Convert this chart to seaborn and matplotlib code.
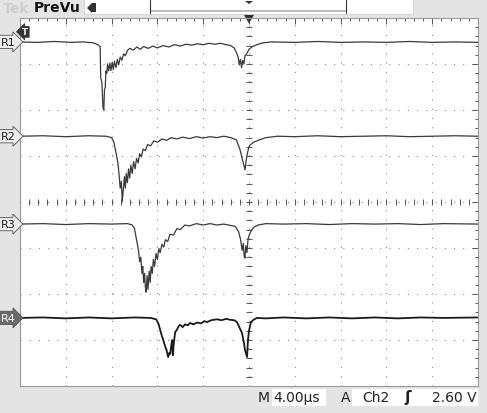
import numpy as np
import pandas as pd
import matplotlib.pyplot as plt
import seaborn as sns
from matplotlib import transforms
from matplotlib.patches import Rectangle, Polygon

# time in microseconds (4 us/div, trigger at 0), level in divisions
r1_t = [-20.0, -18.5, -17.0, -15.5, -14.5, -13.6, -13.2, -13.0, -12.95, -12.85, -12.75, -12.68,
        -12.62, -12.55, -12.50, -12.42, -12.35, -12.25, -12.15, -12.05, -11.95, -11.85, -11.75,
        -11.62, -11.50, -11.38, -11.25, -11.10, -10.95, -10.80, -10.60, -10.40, -10.1, -9.8, -9.5,
        -9.2, -8.8, -8.4, -8.0, -7.5, -7.0, -6.5, -6.0, -5.5, -5.0, -4.5, -4.0, -3.5, -3.0, -2.5,
        -2.0, -1.6, -1.3, -1.1, -0.95, -0.85, -0.75, -0.65, -0.55, -0.45, -0.35, -0.2, 0.0, 0.3,
        0.7, 1.2, 2.0, 4.0, 6.0, 8.0, 10.0, 12.0, 14.0, 16.0, 18.0, 20.0]
r1_v = [3.48, 3.47, 3.49, 3.47, 3.48, 3.46, 3.42, 3.38, 2.70, 2.60, 2.05, 2.00,
        2.45, 2.50, 2.85, 2.80, 3.00, 2.85, 3.02, 2.86, 3.04, 2.88, 3.06,
        2.92, 3.10, 2.98, 3.15, 3.08, 3.22, 3.18, 3.30, 3.34, 3.30, 3.37, 3.32,
        3.38, 3.34, 3.39, 3.35, 3.40, 3.37, 3.42, 3.39, 3.43, 3.41, 3.44, 3.42, 3.45, 3.43, 3.45,
        3.42, 3.40, 3.35, 3.25, 3.15, 2.98, 3.10, 2.92, 3.08, 3.00, 3.18, 3.22, 3.32, 3.38,
        3.42, 3.46, 3.48, 3.47, 3.49, 3.47, 3.48, 3.47, 3.49, 3.47, 3.48, 3.47]

r2_t = [-20.0, -18.0, -16.0, -14.0, -12.5, -12.0, -11.8, -11.6, -11.45, -11.35, -11.25, -11.15,
        -11.07, -11.00, -10.95, -10.88, -10.80, -10.72, -10.62, -10.52, -10.42, -10.32, -10.20,
        -10.08, -9.95, -9.82, -9.68, -9.55, -9.40, -9.25, -9.05, -8.85, -8.6, -8.3, -8.0, -7.6,
        -7.2, -6.8, -6.3, -5.8, -5.2, -4.6, -4.0, -3.4, -2.8, -2.2, -1.6, -1.1, -0.8, -0.6, -0.45,
        -0.35, -0.25, -0.15, 0.0, 0.1, 0.4, 0.9, 1.5, 2.5, 4.0, 6.0, 8.0, 10.0, 12.0, 14.0, 16.0,
        18.0, 20.0]
r2_v = [1.43, 1.44, 1.42, 1.44, 1.43, 1.40, 1.30, 1.05, 0.85, 0.60, 0.30, 0.45,
        0.02, 0.20, 0.35, 0.55, 0.30, 0.62, 0.42, 0.72, 0.52, 0.80, 0.62,
        0.88, 0.72, 0.95, 0.85, 1.05, 0.98, 1.15, 1.12, 1.25, 1.22, 1.33, 1.30, 1.37,
        1.34, 1.40, 1.37, 1.41, 1.38, 1.42, 1.39, 1.42, 1.40, 1.43, 1.40, 1.35, 1.15, 0.95, 0.80,
        0.70, 0.90, 1.05, 1.20, 1.24, 1.30, 1.35, 1.40, 1.43, 1.42, 1.44, 1.42, 1.43, 1.44, 1.42, 1.43,
        1.44, 1.43]

r3_t = [-20.0, -18.0, -16.0, -14.0, -12.0, -10.6, -10.2, -10.0, -9.8, -9.65, -9.55, -9.45, -9.35,
        -9.28, -9.20, -9.12, -9.05, -8.98, -8.90, -8.82, -8.72, -8.63, -8.55, -8.45, -8.35, -8.25,
        -8.12, -8.00, -7.88, -7.76, -7.60, -7.45, -7.30, -7.10, -6.90, -6.60, -6.30, -6.00, -5.6,
        -5.2, -4.6, -4.0, -3.4, -2.8, -2.2, -1.6, -1.2, -0.9, -0.75, -0.6, -0.5, -0.42, -0.35,
        -0.28, -0.18, -0.08, 0.05, 0.2, 0.4, 0.8, 1.5, 3.0, 5.0, 7.0, 9.0, 11.0, 13.0, 15.0, 17.0,
        20.0]
r3_v = [-0.48, -0.47, -0.49, -0.47, -0.48, -0.47, -0.50, -0.58, -0.85, -1.05, -1.30, -1.20, -1.55,
        -1.40, -1.75, -1.55, -1.85, -1.96, -1.60, -1.90, -1.50, -1.75, -1.40, -1.55, -1.25, -1.40,
        -1.12, -1.25, -1.02, -1.10, -0.92, -0.98, -0.82, -0.86, -0.70, -0.72, -0.58, -0.60, -0.50,
        -0.52, -0.47, -0.50, -0.47, -0.50, -0.48, -0.51, -0.53, -0.65, -0.80, -1.05, -0.90, -1.18, -1.22,
        -0.95, -1.10, -0.80, -0.70, -0.62, -0.55, -0.50, -0.47, -0.48, -0.47, -0.49, -0.47, -0.48, -0.47, -0.49, -0.47,
        -0.48]

r4_t = [-20.0, -18.0, -16.0, -14.0, -12.0, -10.0, -8.6, -8.1, -7.9, -7.76, -7.6, -7.49, -7.35,
        -7.2, -7.06, -6.95, -6.88, -6.78, -6.71, -6.65, -6.58, -6.45, -6.3, -6.15, -6.01, -5.8,
        -5.58, -5.35, -5.14, -4.85, -4.53, -4.2, -3.9, -3.66, -3.3, -2.79, -2.4, -2.0, -1.66, -1.3,
        -1.05, -0.85, -0.61, -0.45, -0.35, -0.17, -0.09, 0.0, 0.17, 0.4, 0.70, 1.5, 3.0, 5.0, 7.0,
        9.0, 11.0, 13.0, 15.0, 17.0, 20.0]
r4_v = [-2.52, -2.51, -2.53, -2.51, -2.53, -2.51, -2.52, -2.55, -2.65, -2.78, -2.92, -3.00, -3.12,
        -3.22, -3.37, -3.28, -3.30, -3.10, -3.00, -3.33, -3.10, -2.83, -2.78, -2.70, -2.67, -2.72,
        -2.66, -2.68, -2.63, -2.66, -2.62, -2.64, -2.59, -2.61, -2.57, -2.55, -2.57, -2.54, -2.56, -2.57,
        -2.61, -2.72, -2.85, -3.05, -3.22, -3.37, -3.00, -2.80, -2.61, -2.56, -2.52, -2.53, -2.51, -2.53, -2.51,
        -2.53, -2.51, -2.53, -2.51, -2.52, -2.51]

trace_names = ['R1', 'R2', 'R3', 'R4']
frames = []
for name, t, v in zip(trace_names, [r1_t, r2_t, r3_t, r4_t], [r1_v, r2_v, r3_v, r4_v]):
    frames.append(pd.DataFrame({'time': t, 'level': v, 'trace': name}))
df = pd.concat(frames, ignore_index=True)

sns.set_style('white')
plt.rcParams['font.family'] = ['DejaVu Sans']

W, H = 487, 414
fig = plt.figure(figsize=(W / 100, H / 100), dpi=100, facecolor='#e4e4e4')
ax = fig.add_axes([20 / W, 27 / H, 458 / W, 368 / H])
ax.set_facecolor('white')

def fp(x, y):
    return (x / W, 1 - y / H)

# graticule
ax.set_xlim(-20, 20)
ax.set_ylim(-4, 4)
ax.set_xticks(np.arange(-20, 21, 4))
ax.set_xticks(np.arange(-20, 20.1, 0.8), minor=True)
ax.set_yticks(np.arange(-4, 5, 1))
ax.set_yticks(np.arange(-4, 4.1, 0.2), minor=True)
ax.tick_params(which='both', direction='in', top=True, right=True, labelbottom=False,
               labelleft=False, color='#555555', width=0.7)
ax.tick_params(which='major', length=4)
ax.tick_params(which='minor', length=2.5)
ax.grid(which='major', ls=(0, (1, 7.3)), color='#8a8a8a', lw=0.8)
for s in ax.spines.values():
    s.set_color('#9a9a9a')
    s.set_linewidth(0.8)

# centre cross ticks
mx = np.arange(-20, 20.1, 0.8)
my = np.arange(-4, 4.1, 0.2)
ax.plot(mx, np.zeros_like(mx), ls='none', marker='|', ms=4, mew=0.7, color='#555555')
ax.plot(np.zeros_like(my), my, ls='none', marker='_', ms=4, mew=0.7, color='#555555')

sns.lineplot(data=df, x='time', y='level', hue='trace', units='trace', estimator=None,
             palette=['#3a3a3a', '#3a3a3a', '#3a3a3a', '#1a1a1a'], linewidth=0.9,
             legend=False, ax=ax)
ax.lines[-1].set_linewidth(1.3)
ax.set_xlabel('')
ax.set_ylabel('')

# channel labels at the left
blend = transforms.blended_transform_factory(fig.transFigure, ax.transData)
for name, v in zip(trace_names, [r1_v, r2_v, r3_v, r4_v]):
    dark = name == 'R4'
    ax.text(1 / W, v[0], name, transform=blend, fontsize=8, va='center', ha='left',
            color='white' if dark else '#222222', clip_on=False,
            bbox=dict(boxstyle='rarrow,pad=0.15', fc='#6a6a6a' if dark else '#ececec',
                      ec='#555555', lw=0.6))

# trigger level marker
ax.text(-19.8, 3.70, 'T', fontsize=6, color='white', fontweight='bold', va='center', ha='left',
        bbox=dict(boxstyle='larrow,pad=0.12', fc='#333333', ec='#333333', lw=0.5))

# trigger position marker
tb = transforms.blended_transform_factory(ax.transData, ax.transAxes)
ax.add_patch(Polygon([(-0.5, 1.012), (0.5, 1.012), (0, 0.985)], closed=True, fc='#333333',
                     ec='none', transform=tb, clip_on=False))

# header
fig.text(*fp(3, 9), 'Tek', fontsize=10, color='#cdcdcd', fontweight='bold', va='center')
fig.text(*fp(34, 8), 'PreVu', fontsize=10, color='#111111', fontweight='bold', va='center')
fig.add_artist(Rectangle(fp(84, 15), 329 / W, 15 / H, transform=fig.transFigure,
                         fc='white', ec='#cfcfcf', lw=0.6))
fig.add_artist(Polygon([fp(87, 9), fp(92, 4), fp(92, 14)], closed=True, transform=fig.transFigure,
                       fc='#333333', ec='none'))
fig.add_artist(Rectangle(fp(92, 13), 4 / W, 9 / H, transform=fig.transFigure, fc='#333333', ec='none'))
fig.add_artist(Rectangle(fp(150, 13), 196 / W, 2 / H, transform=fig.transFigure, fc='#bdbdbd', ec='none'))
fig.add_artist(plt.Line2D([150 / W, 150 / W], [1 - 1 / H, 1 - 14 / H], transform=fig.transFigure,
                          color='#333333', lw=0.8))
fig.add_artist(plt.Line2D([346 / W, 346 / W], [1 - 1 / H, 1 - 14 / H], transform=fig.transFigure,
                          color='#333333', lw=0.8))
fig.add_artist(Polygon([fp(245, 2), fp(253, 2), fp(249, 5)], closed=True, transform=fig.transFigure,
                       fc='#333333', ec='none'))

# status line
fig.add_artist(Rectangle(fp(272, 407), 54 / W, 17 / H, transform=fig.transFigure, fc='white', ec='none'))
fig.add_artist(Rectangle(fp(352, 407), 126 / W, 17 / H, transform=fig.transFigure, fc='white', ec='none'))
fig.text(*fp(258, 398), 'M', fontsize=10, color='#222222', va='center')
fig.text(*fp(273, 398), '4.00\u00b5s', fontsize=10, color='#222222', va='center')
fig.text(*fp(341, 398), 'A', fontsize=10, color='#222222', va='center')
fig.text(*fp(362, 398), 'Ch2', fontsize=10, color='#222222', va='center')
fig.text(*fp(404, 398), '\u0283', fontsize=11, color='#222222', va='center', fontweight='bold')
fig.text(*fp(477, 398), '2.60 V', fontsize=10, color='#222222', va='center', ha='right')

fig.savefig('out.png', dpi=100, facecolor=fig.get_facecolor())
